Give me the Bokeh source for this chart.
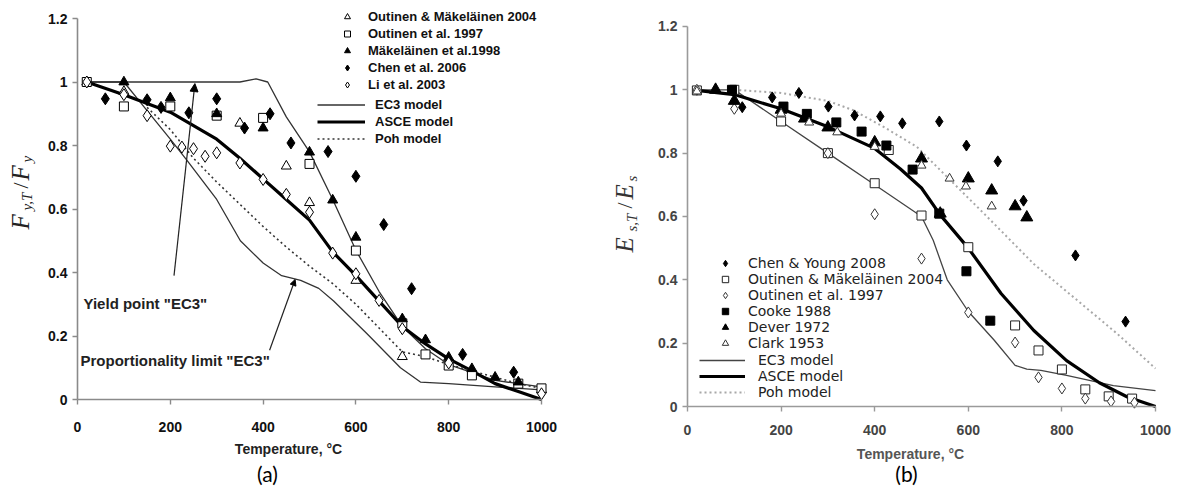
import math
from bokeh.plotting import figure
from bokeh.models import Range1d, Legend, LegendItem, Label, Arrow, NormalHead, FixedTicker
from bokeh.layouts import row
from bokeh.embed import file_html
from bokeh.resources import INLINE

# ---------------- panel (a): yield strength ----------------
a_om04_x = [20, 100, 350, 450, 500, 600, 700, 1000]
a_om04_y = [1.0, 0.97, 0.87, 0.735, 0.62, 0.375, 0.135, 0.03]
a_out97_x = [20, 100, 200, 300, 400, 500, 600, 700, 750, 800, 850, 950, 1000]
a_out97_y = [1.0, 0.923, 0.923, 0.894, 0.887, 0.742, 0.469, 0.24, 0.142, 0.107, 0.076, 0.05, 0.035]
a_mak98_x = [100, 200, 300, 400, 500, 550, 600, 700, 750, 800, 850, 900, 950]
a_mak98_y = [1.0, 0.95, 0.9, 0.855, 0.779, 0.628, 0.511, 0.254, 0.188, 0.133, 0.097, 0.07, 0.055]
a_chen06_x = [60, 150, 180, 240, 300, 360, 415, 460, 540, 600, 660, 720, 830, 940]
a_chen06_y = [0.947, 0.944, 0.92, 0.903, 0.947, 0.855, 0.90, 0.808, 0.781, 0.703, 0.551, 0.349, 0.142, 0.086]
a_li03_x = [20, 100, 150, 200, 225, 250, 275, 300, 350, 400, 450, 500, 550, 600, 650, 700, 800, 1000]
a_li03_y = [1.0, 0.96, 0.894, 0.798, 0.795, 0.79, 0.766, 0.777, 0.745, 0.693, 0.646, 0.59, 0.461, 0.396, 0.312, 0.223, 0.115, 0.018]

a_ec3y_x = [20, 100, 200, 300, 350, 385, 410, 450, 500, 550, 600, 650, 700, 750, 800, 900, 1000]
a_ec3y_y = [1.0, 1.0, 1.0, 1.0, 1.0, 1.01, 1.0, 0.89, 0.78, 0.63, 0.47, 0.34, 0.23, 0.16, 0.11, 0.06, 0.04]
a_ec3p_x = [20, 100, 150, 200, 236, 300, 351, 400, 440, 481, 520, 552, 624, 696, 739, 800, 900, 1000]
a_ec3p_y = [1.0, 1.0, 0.91, 0.82, 0.753, 0.63, 0.50, 0.43, 0.39, 0.375, 0.35, 0.31, 0.207, 0.10, 0.055, 0.05, 0.04, 0.03]
a_asce_x = [20, 100, 200, 300, 350, 400, 450, 500, 550, 600, 650, 700, 750, 800, 850, 900, 950, 1000]
a_asce_y = [1.0, 0.96, 0.905, 0.82, 0.76, 0.695, 0.63, 0.565, 0.465, 0.39, 0.31, 0.23, 0.175, 0.128, 0.09, 0.05, 0.025, 0.0]
a_poh_x = [150, 200, 250, 300, 350, 400, 450, 500, 550, 600, 650, 700, 750, 800, 850, 900, 950, 1000]
a_poh_y = [0.92, 0.85, 0.76, 0.685, 0.615, 0.545, 0.48, 0.42, 0.365, 0.30, 0.225, 0.15, 0.135, 0.11, 0.09, 0.07, 0.05, 0.035]

# ---------------- panel (b): elastic modulus ----------------
b_chen08_x = [117, 181, 238, 301, 357, 412, 459, 538, 596, 663, 718, 829, 936]
b_chen08_y = [0.945, 0.976, 0.99, 0.947, 0.919, 0.916, 0.894, 0.90, 0.824, 0.774, 0.65, 0.477, 0.268]
b_om04_x = [20, 100, 200, 300, 400, 430, 500, 600, 700, 750, 800, 850, 900, 950]
b_om04_y = [0.998, 1.0, 0.90, 0.80, 0.705, 0.81, 0.603, 0.503, 0.256, 0.177, 0.117, 0.054, 0.032, 0.025]
b_out97_x = [20, 100, 300, 400, 500, 600, 700, 750, 800, 850, 905, 955]
b_out97_y = [1.0, 0.94, 0.80, 0.607, 0.467, 0.297, 0.202, 0.092, 0.057, 0.025, 0.016, 0.012]
b_cooke_x = [95, 205, 255, 318, 372, 425, 481, 538, 596, 647]
b_cooke_y = [1.0, 0.947, 0.924, 0.897, 0.868, 0.824, 0.748, 0.609, 0.427, 0.271]
b_dever_x = [60, 100, 200, 250, 300, 400, 500, 540, 600, 650, 700, 725]
b_dever_y = [1.0, 0.965, 0.937, 0.909, 0.881, 0.834, 0.783, 0.609, 0.72, 0.682, 0.632, 0.597]
b_clark_x = [20, 200, 260, 320, 400, 500, 560, 595, 650]
b_clark_y = [0.995, 0.925, 0.897, 0.866, 0.82, 0.761, 0.72, 0.695, 0.632]

b_ec3_x = [20, 100, 200, 300, 400, 500, 525, 555, 600, 655, 700, 725, 755, 810, 910, 1000]
b_ec3_y = [1.0, 1.0, 0.9, 0.8, 0.7, 0.6, 0.525, 0.40, 0.30, 0.21, 0.13, 0.118, 0.114, 0.098, 0.066, 0.05]
b_asce_x = [20, 100, 200, 300, 400, 455, 500, 540, 600, 670, 740, 810, 880, 940, 1000]
b_asce_y = [0.998, 0.985, 0.94, 0.883, 0.815, 0.75, 0.69, 0.605, 0.50, 0.357, 0.24, 0.145, 0.075, 0.03, 0.0]
b_poh_x = [100, 200, 300, 355, 420, 490, 558, 633, 740, 833, 918, 1000]
b_poh_y = [1.0, 0.99, 0.965, 0.935, 0.882, 0.82, 0.72, 0.61, 0.45, 0.335, 0.23, 0.12]

x_ticks = [0, 200, 400, 600, 800, 1000]
y_ticks = [0, 0.2, 0.4, 0.6, 0.8, 1, 1.2]
y_tick_labels = ["0", "0.2", "0.4", "0.6", "0.8", "1", "1.2"]

SANS = "Liberation Sans"
SERIF = "Liberation Serif"
H = 488  # figure height (page pixels)

# page-pixel geometry of the two plot areas
A_LEFT, A_W, A_X0, A_PX, A_Y0, A_PY = 0, 612, 77, 0.464, 399, 317.5
B_LEFT, B_W, B_X0, B_PX, B_Y0, B_PY = 612, 567, 687, 0.468, 406, 316.7


def make_fig(left, w, x0, px, y0, py):
    xr = Range1d((left - x0) / px, (left + w - x0) / px)
    yr = Range1d((y0 - H) / py, y0 / py)
    p = figure(width=w, height=H, x_range=xr, y_range=yr,
               min_border_left=0, min_border_right=0, min_border_top=0, min_border_bottom=0,
               output_backend="svg", toolbar_location=None, background_fill_color="white",
               border_fill_color="white")
    return p


def style_axes(p, tick_color, axis_color, x_standoff):
    for ax in (p.xaxis[0], p.yaxis[0]):
        ax.fixed_location = 0
        ax.axis_line_color = axis_color
        ax.axis_line_width = 1.6
        ax.major_tick_line_color = axis_color
        ax.major_tick_line_width = 1.4
        ax.major_tick_in = 0
        ax.major_tick_out = 5
        ax.minor_tick_line_color = None
        ax.major_label_text_font = SANS
        ax.major_label_text_font_style = "bold"
        ax.major_label_text_font_size = "14px"
        ax.major_label_text_color = tick_color
    p.xaxis[0].bounds = (0, 1000)
    p.yaxis[0].bounds = (0, 1.2)
    p.xaxis[0].ticker = FixedTicker(ticks=x_ticks)
    p.yaxis[0].ticker = FixedTicker(ticks=y_ticks)
    p.yaxis[0].major_label_overrides = {t: s for t, s in zip(y_ticks, y_tick_labels)}
    p.xaxis[0].major_label_standoff = x_standoff
    p.yaxis[0].major_label_standoff = 5
    p.grid.visible = False
    p.outline_line_color = None


def text_at(p, left, px_x, px_y, txt, **kw):
    p.add_layout(Label(x=px_x - left, y=H - px_y, x_units="screen", y_units="screen", text=txt, **kw))


def add_ylabel(p, left, pieces, color):
    for txt, size, bx, sy, style in pieces:
        text_at(p, left, bx, sy, txt, angle=math.pi / 2, text_align="left", text_baseline="alphabetic",
                text_font=SERIF, text_font_style=style, text_font_size=size, text_color=color)


# ================= figure (a) =================
pa = make_fig(A_LEFT, A_W, A_X0, A_PX, A_Y0, A_PY)
style_axes(pa, "#111111", "#8a8a8a", 17)

la_ec3y = pa.line(a_ec3y_x, a_ec3y_y, line_color="#333333", line_width=1.3)
pa.line(a_ec3p_x, a_ec3p_y, line_color="#333333", line_width=1.3)
la_asce = pa.line(a_asce_x, a_asce_y, line_color="black", line_width=3.2)
la_poh = pa.line(a_poh_x, a_poh_y, line_color="#333333", line_width=1.6, line_dash="2 3")

ra_om04 = pa.scatter(a_om04_x, a_om04_y, marker="triangle", size=10, fill_color="white", line_color="black", line_width=1)
ra_out97 = pa.scatter(a_out97_x, a_out97_y, marker="square", size=9, fill_color="white", line_color="black", line_width=1)
ra_mak98 = pa.scatter(a_mak98_x, a_mak98_y, marker="triangle", size=10, fill_color="black", line_color="black")
ra_chen06 = pa.scatter(a_chen06_x, a_chen06_y, marker="diamond", size=12, fill_color="black", line_color="black")
ra_li03 = pa.scatter(a_li03_x, a_li03_y, marker="diamond", size=12, fill_color="white", line_color="black", line_width=1)

leg_kw_a = dict(glyph_height=15, label_height=15, spacing=2, padding=0, margin=0,
                label_text_font=SANS, label_text_font_style="bold", label_text_font_size="13px",
                label_text_color="#111111", background_fill_alpha=0, border_line_alpha=0)
leg_a1 = Legend(items=[LegendItem(label="Outinen & Mäkeläinen 2004", renderers=[ra_om04]),
                       LegendItem(label="Outinen et al. 1997", renderers=[ra_out97]),
                       LegendItem(label="Mäkeläinen et al.1998", renderers=[ra_mak98]),
                       LegendItem(label="Chen et al. 2006", renderers=[ra_chen06]),
                       LegendItem(label="Li et al. 2003", renderers=[ra_li03])],
                location=(337 - A_LEFT, H - 92), glyph_width=20, label_standoff=11, **leg_kw_a)
leg_a2 = Legend(items=[LegendItem(label="EC3 model", renderers=[la_ec3y]),
                       LegendItem(label="ASCE model", renderers=[la_asce]),
                       LegendItem(label="Poh model", renderers=[la_poh])],
                location=(317 - A_LEFT, H - 146), glyph_width=48, label_standoff=10, **leg_kw_a)
pa.add_layout(leg_a1)
pa.add_layout(leg_a2)

pa.add_layout(Arrow(end=NormalHead(size=8, fill_color="black", line_color="black"),
                    x_start=208, y_start=0.39, x_end=253, y_end=0.995, line_width=1.2, line_color="#222222"))
pa.add_layout(Arrow(end=NormalHead(size=6, fill_color="black", line_color="black"),
                    x_start=414, y_start=0.155, x_end=469, y_end=0.378, line_width=1.2, line_color="#222222"))
text_at(pa, A_LEFT, 83, 303, 'Yield point "EC3"', text_font=SANS, text_font_style="bold",
        text_font_size="15px", text_baseline="middle", text_color="#222222")
text_at(pa, A_LEFT, 80, 360, 'Proportionality limit "EC3"', text_font=SANS, text_font_style="bold",
        text_font_size="15px", text_baseline="middle", text_color="#222222")
text_at(pa, A_LEFT, 288, 448, "Temperature, °C", text_font=SANS, text_font_style="bold",
        text_font_size="14px", text_align="center", text_baseline="middle", text_color="#222222")
text_at(pa, A_LEFT, 267, 473, "(a)", text_font="Lato", text_font_size="21px", text_align="center",
        text_baseline="middle", text_color="black")
add_ylabel(pa, A_LEFT, [("F", "25px", 20, 229, "italic"), ("y,T", "15px", 26, 210, "italic"),
                        ("/", "22px", 20, 188, "normal"), ("F", "25px", 20, 180, "italic"),
                        ("y", "15px", 26, 162, "italic")], "#222222")

# ================= figure (b) =================
pb = make_fig(B_LEFT, B_W, B_X0, B_PX, B_Y0, B_PY)
style_axes(pb, "#444444", "#9a9a9a", 13)

lb_ec3 = pb.line(b_ec3_x, b_ec3_y, line_color="#444444", line_width=1.3)
lb_asce = pb.line(b_asce_x, b_asce_y, line_color="black", line_width=3.2)
lb_poh = pb.line(b_poh_x, b_poh_y, line_color="#a8a8a8", line_width=2, line_dash="2 3")

rb_chen = pb.scatter(b_chen08_x, b_chen08_y, marker="diamond", size=11, fill_color="black", line_color="black")
rb_om04 = pb.scatter(b_om04_x, b_om04_y, marker="square", size=9, fill_color="white", line_color="#222222", line_width=1)
rb_out97 = pb.scatter(b_out97_x, b_out97_y, marker="diamond", size=11, fill_color="white", line_color="#333333", line_width=1)
rb_cooke = pb.scatter(b_cooke_x, b_cooke_y, marker="square", size=9, fill_color="black", line_color="black")
rb_dever = pb.scatter(b_dever_x, b_dever_y, marker="triangle", size=12, fill_color="black", line_color="black")
rb_clark = pb.scatter(b_clark_x, b_clark_y, marker="triangle", size=9, fill_color="white", line_color="#333333", line_width=1)

leg_kw_b = dict(glyph_height=16, label_height=16, spacing=-1, padding=0, margin=0,
                label_text_font="DejaVu Sans", label_text_font_size="14px", label_text_color="#222222",
                background_fill_alpha=0, border_line_alpha=0)
leg_b1 = Legend(items=[LegendItem(label="Chen & Young 2008", renderers=[rb_chen]),
                       LegendItem(label="Outinen & Mäkeläinen 2004", renderers=[rb_om04]),
                       LegendItem(label="Outinen et al. 1997", renderers=[rb_out97]),
                       LegendItem(label="Cooke 1988", renderers=[rb_cooke]),
                       LegendItem(label="Dever 1972", renderers=[rb_dever]),
                       LegendItem(label="Clark 1953", renderers=[rb_clark])],
                location=(715 - B_LEFT, H - 351), glyph_width=20, label_standoff=13, **leg_kw_b)
leg_b2 = Legend(items=[LegendItem(label="EC3 model", renderers=[lb_ec3]),
                       LegendItem(label="ASCE model", renderers=[lb_asce]),
                       LegendItem(label="Poh model", renderers=[lb_poh])],
                location=(699 - B_LEFT, H - 400), glyph_width=46, label_standoff=13, **leg_kw_b)
pb.add_layout(leg_b1)
pb.add_layout(leg_b2)

text_at(pb, B_LEFT, 910, 453, "Temperature, °C", text_font=SANS, text_font_style="bold",
        text_font_size="14px", text_align="center", text_baseline="middle", text_color="#555555")
text_at(pb, B_LEFT, 906, 473, "(b)", text_font="Lato", text_font_size="21px", text_align="center",
        text_baseline="middle", text_color="black")
add_ylabel(pb, B_LEFT, [("E", "25px", 624, 252, "italic"), ("s,T", "15px", 631, 231, "italic"),
                        ("/", "22px", 624, 208, "normal"), ("E", "25px", 624, 199, "italic"),
                        ("s", "15px", 631, 181, "italic")], "#333333")

layout = row(pa, pb)
open("out.html", "w").write(file_html(layout, INLINE))
